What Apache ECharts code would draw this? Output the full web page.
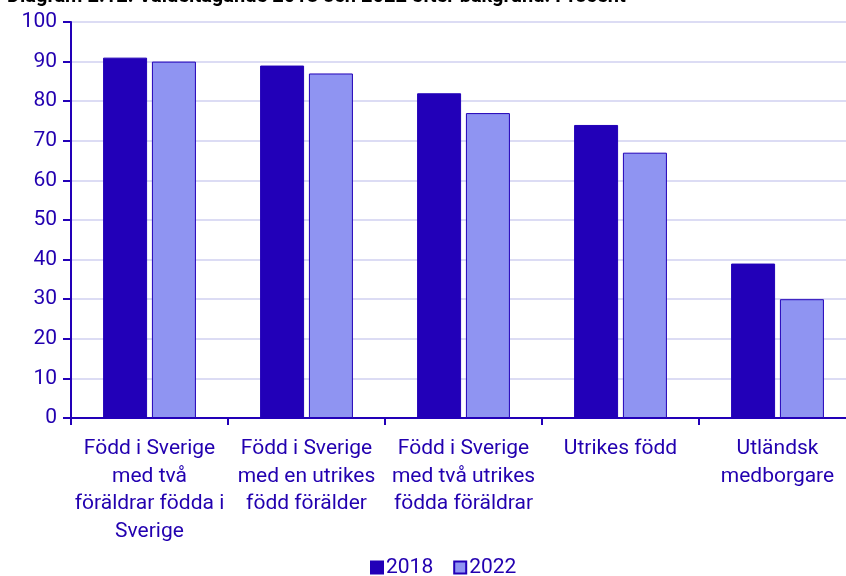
<!DOCTYPE html>
<html>
<head>
<meta charset="utf-8">
<script src="https://cdn.jsdelivr.net/npm/echarts@6/dist/echarts.min.js"></script>
<style>
  html, body { margin: 0; padding: 0; background: #fff; overflow: hidden; }
  #chart { width: 856px; height: 576px; }
</style>
</head>
<body>
<div id="chart"></div>
<script>
// data
const categories = [
  'Född i Sverige\nmed två\nföräldrar födda i\nSverige',
  'Född i Sverige\nmed en utrikes\nfödd förälder',
  'Född i Sverige\nmed två utrikes\nfödda föräldrar',
  'Utrikes född',
  'Utländsk\nmedborgare'
];
const values2018 = [91, 89, 82, 74, 39];
const values2022 = [90, 87, 77, 67, 30];
const yTicks = { min: 0, max: 100, interval: 10 };

const dark = '#2200b8';
const light = '#8f94f2';
const textColor = '#2200b0';

var myChart = echarts.init(document.getElementById('chart'));
var option = {
  animation: false,
  textStyle: { fontFamily: 'Roboto' },
  title: {
    text: 'Diagram 2.12. Valdeltagande 2018 och 2022 efter bakgrund. Procent',
    left: 2,
    top: -18,
    textStyle: { fontSize: 20, fontWeight: 'bold', color: '#000', fontFamily: 'Roboto' }
  },
  legend: {
    top: 552,
    left: 365,
    itemWidth: 12,
    itemHeight: 12,
    itemGap: 20,
    icon: 'rect',
    textStyle: { fontSize: 21, color: textColor, padding: [0, 0, 0, -2] },
    data: ['2018', '2022']
  },
  grid: { left: 71, right: 0, top: 22, bottom: 158 },
  xAxis: {
    type: 'category',
    data: categories,
    axisLine: { lineStyle: { color: dark, width: 2 } },
    axisTick: { show: true, length: 7, lineStyle: { color: dark, width: 2 } },
    axisLabel: {
      interval: 0,
      color: textColor,
      fontSize: 21,
      lineHeight: 27.5,
      margin: 17
    }
  },
  yAxis: {
    type: 'value',
    min: yTicks.min,
    max: yTicks.max,
    interval: yTicks.interval,
    axisLine: { show: true, lineStyle: { color: dark, width: 2 } },
    axisTick: { show: true, length: 8, lineStyle: { color: dark, width: 2 } },
    axisLabel: { color: textColor, fontSize: 21, margin: 14 },
    splitLine: { lineStyle: { color: '#d0d0f0', width: 1.5 } }
  },
  series: [
    {
      name: '2018',
      type: 'bar',
      data: values2018,
      barWidth: 44,
      barGap: '11%',
      itemStyle: { color: dark, borderColor: dark, borderWidth: 1 }
    },
    {
      name: '2022',
      type: 'bar',
      data: values2022,
      barWidth: 44,
      itemStyle: { color: light, borderColor: dark, borderWidth: 1 }
    }
  ]
};
option && myChart.setOption(option);
</script>
</body>
</html>
